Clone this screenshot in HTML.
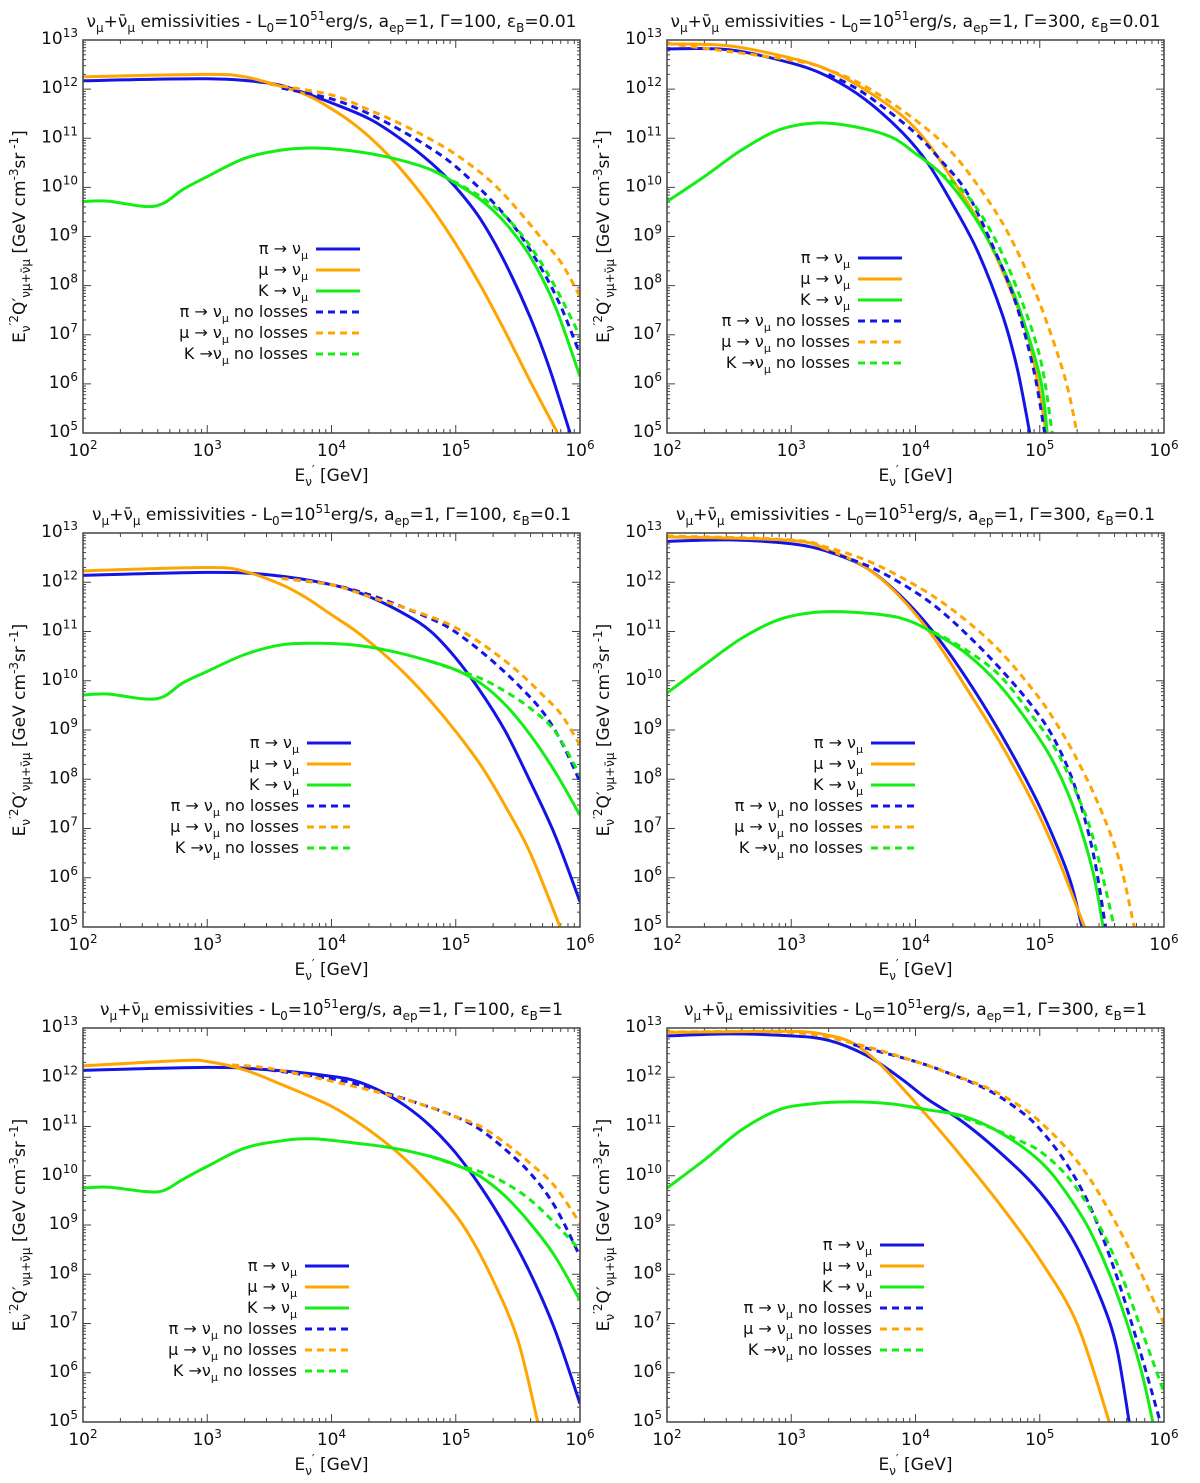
<!DOCTYPE html>
<html><head><meta charset="utf-8">
<style>
html,body{margin:0;padding:0;background:#fff;}
svg{display:block;font-family:"DejaVu Sans","Liberation Sans",sans-serif;}
</style></head>
<body>
<svg id="fig" width="1200" height="1483" viewBox="0 0 1200 1483" xmlns="http://www.w3.org/2000/svg"></svg>
<script>
// ---- data: [log10 E', log10 E'^2 Q'] ----
const gammas = [100, 300, 100, 300, 100, 300];
const epsB = ["0.01", "0.01", "0.1", "0.1", "1", "1"];
const xTicks = [2, 3, 4, 5, 6];
const yTicks = [5, 6, 7, 8, 9, 10, 11, 12, 13];

const p1_pi = [[2,12.17],[3,12.21],[3.5,12.12],[3.75,11.95],[4,11.72],[4.3,11.4],[4.55,11.0],[4.8,10.5],[5,10.0],[5.2,9.35],[5.4,8.45],[5.6,7.35],[5.75,6.35],[5.92,5.0]];
const p1_mu = [[2,12.25],[3,12.3],[3.3,12.25],[3.6,12.05],[3.8,11.88],[4,11.6],[4.2,11.25],[4.4,10.8],[4.6,10.25],[4.8,9.6],[5,8.85],[5.2,8.0],[5.4,7.05],[5.6,6.05],[5.82,5.0]];
const p1_k = [[2,9.71],[2.2,9.72],[2.5,9.61],[2.65,9.68],[2.8,9.95],[3,10.22],[3.3,10.59],[3.6,10.76],[3.9,10.8],[4.2,10.73],[4.5,10.59],[4.8,10.36],[5,10.08],[5.2,9.75],[5.4,9.27],[5.6,8.59],[5.8,7.58],[6,6.15]];
const p1_pin = [[3.6,12.02],[4,11.8],[4.3,11.5],[4.6,11.1],[4.9,10.62],[5.1,10.2],[5.3,9.7],[5.5,9.1],[5.7,8.3],[5.85,7.55],[6,6.6]];
const p1_mun = [[3.5,12.1],[4,11.88],[4.3,11.58],[4.6,11.24],[4.9,10.83],[5.1,10.49],[5.3,10.08],[5.5,9.54],[5.7,8.93],[5.85,8.46],[6,7.78]];
const p1_kn = [[4.8,10.36],[5,10.1],[5.2,9.81],[5.4,9.41],[5.6,8.8],[5.8,7.98],[6,6.97]];

const p2_pi = [[2,12.82],[2.5,12.8],[3,12.53],[3.3,12.25],[3.6,11.78],[3.9,11.1],[4.1,10.49],[4.3,9.65],[4.5,8.7],[4.7,7.4],[4.82,6.3],[4.92,5.0]];
const p2_mu = [[2,12.92],[2.5,12.88],[3,12.63],[3.3,12.39],[3.6,11.98],[3.9,11.44],[4.1,10.9],[4.3,10.15],[4.5,9.34],[4.7,8.3],[4.9,7.0],[5.0,5.8],[5.05,5.0]];
const p2_k = [[2,9.71],[2.3,10.22],[2.6,10.76],[2.9,11.17],[3.2,11.31],[3.5,11.24],[3.8,11.03],[4,10.69],[4.2,10.29],[4.4,9.68],[4.6,8.86],[4.8,7.78],[5,6.15],[5.06,5.0]];
const p2_pin = [[3.3,12.3],[3.5,12.05],[3.7,11.71],[4,11.1],[4.2,10.56],[4.4,9.95],[4.6,8.93],[4.8,7.7],[4.95,6.3],[5.04,5.0]];
const p2_mun = [[2,12.93],[3,12.59],[3.3,12.39],[3.6,12.05],[4,11.37],[4.3,10.69],[4.6,9.68],[4.8,8.8],[5,7.64],[5.2,6.15],[5.3,5.0]];
const p2_kn = [[4.2,10.29],[4.4,9.88],[4.6,9.14],[4.8,8.05],[5,6.56],[5.1,5.0]];

const p3_pi = [[2,12.14],[3,12.2],[3.5,12.15],[4,11.95],[4.3,11.71],[4.6,11.34],[4.8,11.0],[5,10.46],[5.2,9.78],[5.4,8.97],[5.6,7.95],[5.8,6.86],[6,5.51]];
const p3_mu = [[2,12.23],[3,12.3],[3.3,12.22],[3.6,11.95],[3.8,11.68],[4,11.34],[4.2,11.0],[4.4,10.59],[4.6,10.12],[4.8,9.58],[5,8.97],[5.2,8.29],[5.4,7.45],[5.6,6.5],[5.84,5.0]];
const p3_k = [[2,9.71],[2.2,9.73],[2.5,9.63],[2.65,9.68],[2.8,9.95],[3,10.19],[3.3,10.53],[3.6,10.73],[3.9,10.76],[4.2,10.72],[4.5,10.59],[4.8,10.39],[5,10.22],[5.2,9.95],[5.4,9.51],[5.6,8.9],[5.8,8.15],[6,7.27]];
const p3_pin = [[3.6,12.08],[4,11.95],[4.3,11.75],[4.6,11.47],[4.9,11.14],[5.1,10.8],[5.3,10.39],[5.5,9.92],[5.7,9.37],[5.85,8.76],[6,7.95]];
const p3_mun = [[3.6,12.08],[4,11.95],[4.3,11.71],[4.6,11.47],[4.9,11.2],[5.1,10.93],[5.3,10.59],[5.5,10.19],[5.7,9.71],[5.85,9.31],[6,8.69]];
const p3_kn = [[4.8,10.39],[5,10.22],[5.2,10.05],[5.4,9.78],[5.6,9.44],[5.8,8.97],[6,8.08]];

const p4_pi = [[2,12.83],[2.5,12.86],[3,12.78],[3.3,12.62],[3.6,12.3],[3.87,11.75],[4.14,11.0],[4.41,10.05],[4.68,8.95],[4.95,7.7],[5.13,6.7],[5.25,5.9],[5.34,5.0]];
const p4_mu = [[2,12.92],[3,12.85],[3.3,12.65],[3.6,12.3],[3.87,11.72],[4.14,10.9],[4.41,9.85],[4.68,8.75],[4.95,7.5],[5.13,6.5],[5.36,5.0]];
const p4_k = [[2,9.75],[2.3,10.32],[2.6,10.86],[2.9,11.24],[3.2,11.39],[3.5,11.39],[3.87,11.28],[4.14,10.98],[4.41,10.55],[4.68,9.9],[4.95,9.0],[5.13,8.25],[5.29,7.3],[5.43,6.1],[5.51,5.0]];
const p4_pin = [[3.3,12.62],[3.6,12.35],[3.87,12.0],[4.14,11.55],[4.41,10.95],[4.68,10.25],[4.95,9.45],[5.13,8.75],[5.29,7.8],[5.43,6.5],[5.53,5.0]];
const p4_mun = [[2,12.94],[3,12.86],[3.3,12.7],[3.6,12.45],[3.87,12.12],[4.14,11.72],[4.41,11.22],[4.68,10.6],[4.95,9.8],[5.13,9.15],[5.29,8.45],[5.48,7.45],[5.64,6.35],[5.76,5.0]];
const p4_kn = [[4.14,11.0],[4.41,10.62],[4.68,10.1],[4.95,9.25],[5.13,8.6],[5.29,7.75],[5.43,6.8],[5.6,5.0]];

const p5_pi = [[2,12.14],[3,12.2],[3.5,12.15],[4,12.02],[4.2,11.92],[4.4,11.71],[4.6,11.41],[4.8,11.0],[5,10.46],[5.2,9.78],[5.4,8.97],[5.6,8.02],[5.8,6.86],[6,5.37]];
const p5_mu = [[2,12.23],[2.8,12.34],[3,12.32],[3.3,12.15],[3.6,11.85],[4,11.41],[4.3,10.93],[4.6,10.32],[4.9,9.51],[5.1,8.83],[5.3,7.88],[5.5,6.66],[5.66,5.0]];
const p5_k = [[2,9.75],[2.2,9.77],[2.5,9.68],[2.65,9.7],[2.8,9.92],[3,10.19],[3.3,10.56],[3.6,10.71],[3.85,10.75],[4.2,10.66],[4.5,10.56],[4.8,10.39],[5,10.22],[5.2,9.98],[5.4,9.58],[5.6,9.03],[5.8,8.36],[6,7.47]];
const p5_pin = [[3.5,12.15],[4,11.97],[4.2,11.86],[4.4,11.71],[4.7,11.47],[5,11.2],[5.2,10.93],[5.4,10.53],[5.6,10.05],[5.8,9.37],[6,8.36]];
const p5_mun = [[3.2,12.25],[3.5,12.18],[4,11.92],[4.4,11.68],[4.7,11.47],[5,11.2],[5.2,11.0],[5.4,10.66],[5.6,10.25],[5.8,9.78],[6,9.03]];
const p5_kn = [[4.8,10.39],[5,10.22],[5.2,10.08],[5.4,9.85],[5.6,9.51],[5.8,9.03],[6,8.49]];

const p6_pi = [[2,12.84],[2.5,12.88],[3,12.84],[3.3,12.75],[3.6,12.45],[3.87,12.0],[4.1,11.55],[4.35,11.15],[4.6,10.65],[4.9,9.95],[5.1,9.35],[5.3,8.55],[5.5,7.45],[5.62,6.5],[5.72,5.0]];
const p6_mu = [[2,12.91],[3,12.93],[3.3,12.85],[3.5,12.69],[3.7,12.3],[3.87,11.85],[4.1,11.2],[4.4,10.3],[4.7,9.35],[5,8.3],[5.3,7.0],[5.56,5.0]];
const p6_k = [[2,9.75],[2.3,10.32],[2.6,10.93],[2.9,11.34],[3.2,11.47],[3.5,11.5],[3.8,11.46],[4.1,11.34],[4.4,11.2],[4.7,10.85],[5,10.3],[5.2,9.7],[5.4,8.9],[5.6,7.75],[5.8,6.2],[5.91,5.0]];
const p6_pin = [[3.5,12.66],[4,12.32],[4.3,12.05],[4.6,11.72],[4.85,11.3],[5,10.95],[5.2,10.3],[5.4,9.4],[5.6,8.1],[5.8,6.5],[5.97,5.0]];
const p6_mun = [[2,12.92],[3,12.91],[3.5,12.69],[4,12.32],[4.3,12.05],[4.6,11.76],[4.85,11.4],[5,11.1],[5.2,10.6],[5.4,9.95],[5.6,9.1],[5.8,8.1],[6,7.0]];
const p6_kn = [[4.3,11.25],[4.6,10.98],[4.85,10.7],[5,10.5],[5.2,10.05],[5.4,9.35],[5.6,8.35],[5.8,7.0],[6,5.6]];

const panelSeries = [
  [p1_pi,p1_mu,p1_k,p1_pin,p1_mun,p1_kn],
  [p2_pi,p2_mu,p2_k,p2_pin,p2_mun,p2_kn],
  [p3_pi,p3_mu,p3_k,p3_pin,p3_mun,p3_kn],
  [p4_pi,p4_mu,p4_k,p4_pin,p4_mun,p4_kn],
  [p5_pi,p5_mu,p5_k,p5_pin,p5_mun,p5_kn],
  [p6_pi,p6_mu,p6_k,p6_pin,p6_mun,p6_kn]
];
const seriesNames = ["pi-to-numu","mu-to-numu","k-to-numu","pi-to-numu-no-losses","mu-to-numu-no-losses","k-to-numu-no-losses"];
const legendLabels = [["π → ν",""],["μ → ν",""],["K → ν",""],["π → ν"," no losses"],["μ → ν"," no losses"],["K →ν"," no losses"]];
const colors = ["#1414e6","#ffa500","#14ee14","#1414e6","#ffa500","#14ee14"];

const geom = [
  {x0:83,y0:40,w:497,h:393,lx:316,ly:249},
  {x0:667,y0:40,w:497,h:393,lx:858,ly:258},
  {x0:83,y0:533,w:497,h:394,lx:307,ly:743},
  {x0:667,y0:533,w:497,h:394,lx:871,ly:743},
  {x0:83,y0:1028,w:497,h:394,lx:305,ly:1266},
  {x0:667,y0:1028,w:497,h:394,lx:880,ly:1245}
];
const NS="http://www.w3.org/2000/svg";
const svg=document.getElementById('fig');
function mk(tag,attrs,parent){const e=document.createElementNS(NS,tag);for(const k in attrs)e.setAttribute(k,attrs[k]);(parent||svg).appendChild(e);return e;}
function rich(t,tokens,small){
  let cur=0;
  tokens.forEach(([s,m])=>{
    const target=m==='sub'?5:(m==='sup'?-7:0);
    const a={dy:(target-cur)};
    if(m)a['font-size']=small;
    const sp=mk('tspan',a,t);sp.textContent=s;cur=target;
  });
  if(cur!==0){const sp=mk('tspan',{dy:-cur},t);sp.textContent='';}
  return t;
}
function pathFrom(pts){
  let d='M'+pts[0][0].toFixed(1)+','+pts[0][1].toFixed(1);
  for(let i=0;i<pts.length-1;i++){
    const p0=pts[Math.max(0,i-1)],p1=pts[i],p2=pts[i+1],p3=pts[Math.min(pts.length-1,i+2)];
    const c1x=p1[0]+(p2[0]-p0[0])/6,c1y=p1[1]+(p2[1]-p0[1])/6;
    const c2x=p2[0]-(p3[0]-p1[0])/6,c2y=p2[1]-(p3[1]-p1[1])/6;
    d+=' C'+c1x.toFixed(1)+','+c1y.toFixed(1)+' '+c2x.toFixed(1)+','+c2y.toFixed(1)+' '+p2[0].toFixed(1)+','+p2[1].toFixed(1);
  }
  return d;
}

geom.forEach((g,pi)=>{
  const grp=mk('g',{});
  
  
  const sx=v=>g.x0+(v-2)/4*g.w;
  const sy=v=>g.y0+g.h-(v-5)/8*g.h;
  const cp=mk('clipPath',{id:'clip'+pi},grp);
  mk('rect',{x:g.x0,y:g.y0,width:g.w,height:g.h},cp);
  const t=mk('text',{x:g.x0+g.w/2,y:g.y0-13,'text-anchor':'middle','font-size':'17',fill:'#111'},grp);
  
  
  rich(t,[['ν',''],['μ','sub'],['+ν̄',''],['μ','sub'],[' emissivities - L',''],['0','sub'],['=10',''],['51','sup'],['erg/s, a',''],['ep','sub'],['=1, Γ='+gammas[pi]+', ε',''],['B','sub'],['='+epsB[pi],'']],'12');
  const tk=mk('g',{stroke:'#444','stroke-width':'1'},grp);
  
  
  for(let dec=2;dec<6;dec++){for(let m=1;m<=9;m++){const v=dec+Math.log10(m);const x=sx(v);const L=m===1?8:4;
    mk('line',{x1:x,y1:g.y0+g.h,x2:x,y2:g.y0+g.h-L},tk);mk('line',{x1:x,y1:g.y0,x2:x,y2:g.y0+L},tk);}}
  yTicks.forEach(v=>{const y=sy(v);mk('line',{x1:g.x0,y1:y,x2:g.x0+8,y2:y},tk);mk('line',{x1:g.x0+g.w,y1:y,x2:g.x0+g.w-8,y2:y},tk);
    for(let m=2;m<=9&&v<13;m++){const yy=sy(v+Math.log10(m));mk('line',{x1:g.x0,y1:yy,x2:g.x0+3,y2:yy},tk);mk('line',{x1:g.x0+g.w,y1:yy,x2:g.x0+g.w-3,y2:yy},tk);}
  });
  xTicks.forEach(v=>{const tl=mk('text',{x:sx(v),y:g.y0+g.h+23,'text-anchor':'middle','font-size':'17',fill:'#111'},grp);
    
    
    rich(tl,[['10',''],[String(v),'sup']],'12');});
  yTicks.forEach(v=>{const tl=mk('text',{x:g.x0-5,y:sy(v)+4,'text-anchor':'end','font-size':'17',fill:'#111'},grp);
    
    
    rich(tl,[['10',''],[String(v),'sup']],'12');});
  const xt=mk('text',{x:g.x0+g.w/2,y:g.y0+g.h+48,'text-anchor':'middle','font-size':'17',fill:'#111'},grp);
  
  
  rich(xt,[['E',''],['ν','sub'],['\u2032','sup'],[' [GeV]','']],'12');
  const yx=g.x0-58, yy=g.y0+g.h/2;
  const yt=mk('text',{x:yx,y:yy,'text-anchor':'middle','font-size':'17',fill:'#111',transform:'rotate(-90 '+yx+' '+yy+')'},grp);
  
  
  rich(yt,[['E',''],['ν','sub'],['\u20322','sup'],['Q\u2032',''],['νμ+ν̄μ','sub'],[' [GeV cm',''],['-3','sup'],['sr',''],[' -1','sup'],[']','']],'12');
  const sg=mk('g',{'clip-path':'url(#clip'+pi+')',fill:'none'},grp);
  panelSeries[pi].forEach((ser,si)=>{
    const pts=ser.map(p=>[sx(p[0]),sy(p[1])]);
    const pa=mk('path',{d:pathFrom(pts),stroke:colors[si],'stroke-width':'3','stroke-linejoin':'round'},sg);
    if(si>=3)pa.setAttribute('stroke-dasharray','7,5');
    
    
  });
  const fr=mk('rect',{x:g.x0,y:g.y0,width:g.w,height:g.h,fill:'none',stroke:'#444','stroke-width':'1.5'},grp);
  
  
  const lg=mk('g',{},grp);
  
  
  legendLabels.forEach((lab,si)=>{
    const y=g.ly+si*21;
    const e=mk('g',{},lg);
    
    
    const tx=mk('text',{x:g.lx-8,y:y+5,'text-anchor':'end','font-size':'16',fill:'#111'},e);
    rich(tx,[[lab[0],''],['μ','sub'],[lab[1],'']],'11');
    const ln=mk('line',{x1:g.lx,y1:y,x2:g.lx+44,y2:y,stroke:colors[si],'stroke-width':'3'},e);
    if(si>=3)ln.setAttribute('stroke-dasharray','7,5');
  });
});
</script>
</body></html>
